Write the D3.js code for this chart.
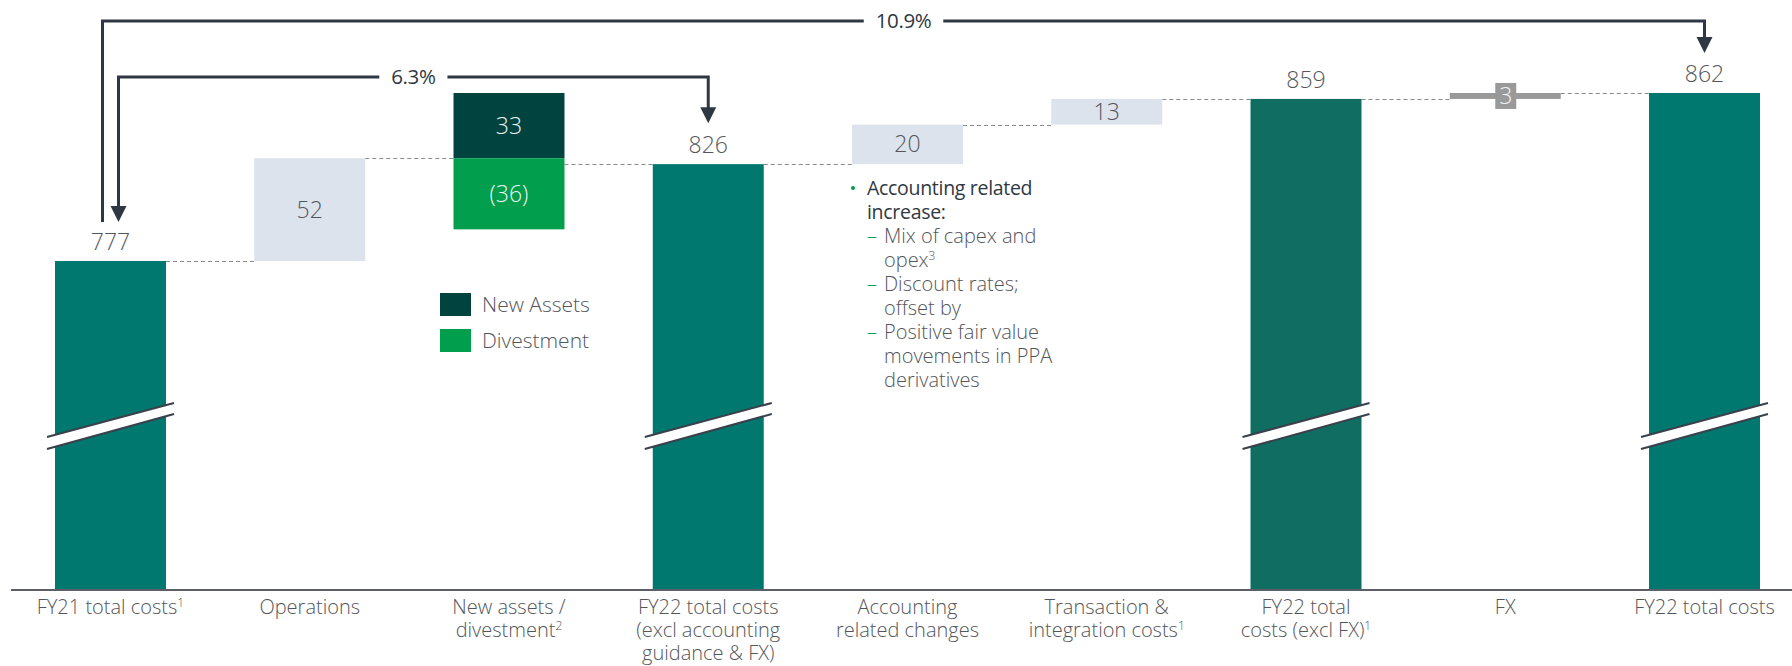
<!DOCTYPE html>
<html>
<head>
<meta charset="utf-8">
<script src="https://cdn.jsdelivr.net/npm/d3@7"></script>
<style>
  body { margin: 0; background: #fff; }
  svg { display: block; font-family: "Open Sans", "Noto Sans", sans-serif; }
</style>
</head>
<body>
<script>
// categories along the x axis (with superscript marks as ^n)
var categories = ["FY21", "Operations", "NewAssets", "FY22excl", "Accounting", "Transaction", "FY22exclFX", "FX", "FY22"];
var tickLabels = [
    ["FY21 total costs^1"],
    ["Operations"],
    ["New assets /", "divestment^2"],
    ["FY22 total costs", "(excl accounting", "guidance & FX)"],
    ["Accounting", "related changes"],
    ["Transaction &", "integration costs^1"],
    ["FY22 total", "costs (excl FX)^1"],
    ["FX"],
    ["FY22 total costs"]
];
var kinds = ["total", "delta", "split", "total", "delta", "delta", "total", "delta", "total"];
var values = [777, 52, null, 826, 20, 13, 859, 3, 862];
var newAssets = 33;
var divestment = -36;
var legendItems = ["New Assets", "Divestment"];
var noteTitle = ["Accounting related", "increase:"];
var noteItems = [["Mix of capex and", "opex^3"], ["Discount rates;", "offset by"], ["Positive fair value", "movements in PPA", "derivatives"]];
var arrowLabels = ["6.3%", "10.9%"];

var width = 1792, height = 666;
var baseY = 589;

var colours = {
    total: "#00776f",
    totalAlt: "#0f6d62",
    delta: "#dde3ed",
    fx: "#999999",
    newAssets: "#00433f",
    divest: "#009e4d",
    text: "#53565a",
    dark: "#2f3842",
    dash: "#8a8a8a"
};

var svg = d3.select("body").append("svg")
    .attr("width", width).attr("height", height);

var x = d3.scaleBand().domain(categories).range([55, 1760]).paddingInner(0.443).paddingOuter(0);
// broken axis: the bottom of the plot is not zero
var y = d3.scaleLinear().domain([611, 862]).range([baseY, 93]);

// build the waterfall steps
var steps = [];
var running = 0;
categories.forEach(function(c, i) {
    var k = kinds[i];
    if (k === "total") {
        steps.push({cat: c, kind: k, from: 0, to: values[i], end: values[i]});
        running = values[i];
    } else if (k === "delta") {
        steps.push({cat: c, kind: k, from: running, to: running + values[i], end: running + values[i], v: values[i]});
        running += values[i];
    } else {
        var start = running;
        running = start + newAssets + divestment;
        steps.push({cat: c, kind: k, from: start, end: running});
    }
});

// one text element, one tspan per line, "^n" becomes a superscript
function multiLine(sel, lines, lx, ly, lh) {
    lines.forEach(function(str, j) {
        var parts = str.split("^");
        sel.append("tspan").attr("x", lx).attr("y", ly + j * lh).text(parts[0]);
        if (parts[1]) {
            sel.append("tspan").attr("font-size", "0.6em").attr("dy", "-0.6em").text(parts[1]);
        }
    });
}

// connectors
var conn = svg.append("g").attr("class", "connectors");
for (var i = 0; i < steps.length - 1; i++) {
    var s = steps[i];
    var lvl = s.end;
    var x1 = x(s.cat) + x.bandwidth();
    var x2 = x(steps[i + 1].cat);
    conn.append("line")
        .attr("x1", x1).attr("x2", x2)
        .attr("y1", Math.round(y(lvl)) + 0.5).attr("y2", Math.round(y(lvl)) + 0.5)
        .attr("stroke", colours.dash).attr("stroke-width", 1.2)
        .attr("stroke-dasharray", "4,3");
}

// bars
var bars = svg.append("g").attr("class", "bars");
steps.forEach(function(s, i) {
    var bx = x(s.cat), bw = x.bandwidth(), cx = bx + bw / 2;
    if (s.kind === "total") {
        bars.append("rect")
            .attr("x", bx).attr("width", bw)
            .attr("y", y(s.to)).attr("height", baseY - y(s.to))
            .attr("fill", s.cat === "FY22exclFX" ? colours.totalAlt : colours.total);
        bars.append("text")
            .attr("x", cx).attr("y", y(s.to) - 11)
            .attr("text-anchor", "middle")
            .attr("font-size", 23).attr("font-weight", 300)
            .attr("fill", colours.text)
            .text(s.to);
    } else if (s.kind === "delta") {
        var top = y(s.to), bot = y(s.from);
        var isFx = s.cat === "FX";
        bars.append("rect")
            .attr("x", bx).attr("width", bw)
            .attr("y", top).attr("height", bot - top)
            .attr("fill", isFx ? colours.fx : colours.delta);
        if (isFx) {
            bars.append("rect")
                .attr("x", cx - 10).attr("width", 21)
                .attr("y", (top + bot) / 2 - 13).attr("height", 26)
                .attr("fill", colours.fx);
        }
        bars.append("text")
            .attr("x", cx + (isFx ? 0.5 : 0)).attr("y", (top + bot) / 2 + 8)
            .attr("text-anchor", "middle")
            .attr("font-size", 23).attr("font-weight", 300)
            .attr("fill", isFx ? "#f2f2f2" : colours.text)
            .text(s.v);
    } else {
        var yTop = y(s.from + newAssets), yMid = y(s.from), yBot = y(s.from + divestment);
        bars.append("rect")
            .attr("x", bx).attr("width", bw)
            .attr("y", yTop).attr("height", yMid - yTop)
            .attr("fill", colours.newAssets);
        bars.append("rect")
            .attr("x", bx).attr("width", bw)
            .attr("y", yMid).attr("height", yBot - yMid)
            .attr("fill", colours.divest);
        bars.append("text")
            .attr("x", cx).attr("y", (yTop + yMid) / 2 + 8)
            .attr("text-anchor", "middle")
            .attr("font-size", 23).attr("font-weight", 300)
            .attr("fill", "#eef2f1")
            .text(newAssets);
        bars.append("text")
            .attr("x", cx).attr("y", (yMid + yBot) / 2 + 8)
            .attr("text-anchor", "middle")
            .attr("font-size", 23).attr("font-weight", 300)
            .attr("fill", "#eef2f1")
            .text("(" + Math.abs(divestment) + ")");
    }
});

// axis break marks on the total bars
var brk = svg.append("g").attr("class", "breaks");
steps.forEach(function(s) {
    if (s.kind !== "total") return;
    var l = x(s.cat) - 8, r = x(s.cat) + x.bandwidth() + 8;
    brk.append("polygon")
        .attr("points", [[l, 437], [r, 403], [r, 414], [l, 449]].join(" "))
        .attr("fill", "#fff");
    brk.append("line").attr("x1", l).attr("y1", 437).attr("x2", r).attr("y2", 403)
        .attr("stroke", "#39414b").attr("stroke-width", 2);
    brk.append("line").attr("x1", l).attr("y1", 449).attr("x2", r).attr("y2", 414)
        .attr("stroke", "#39414b").attr("stroke-width", 2);
});

// x axis
svg.append("line")
    .attr("x1", 11).attr("x2", width)
    .attr("y1", baseY + 1).attr("y2", baseY + 1)
    .attr("stroke", "#5b6068").attr("stroke-width", 2);

var ticks = svg.append("g").attr("class", "ticks");
tickLabels.forEach(function(lines, i) {
    var cx = x(categories[i]) + x.bandwidth() / 2;
    var t = ticks.append("text")
        .attr("text-anchor", "middle")
        .attr("font-size", 20).attr("font-weight", 300)
        .attr("fill", colours.text);
    multiLine(t, lines, cx, 614, 23);
});

// legend
var legend = svg.append("g").attr("class", "legend");
[colours.newAssets, colours.divest].forEach(function(c, i) {
    legend.append("rect")
        .attr("x", 440).attr("y", 293 + i * 36)
        .attr("width", 31).attr("height", 23)
        .attr("fill", c);
    legend.append("text")
        .attr("x", 482).attr("y", 312 + i * 36)
        .attr("font-size", 21).attr("font-weight", 300)
        .attr("fill", colours.text)
        .text(legendItems[i]);
});

// note beside accounting changes
var note = svg.append("g").attr("class", "note");
note.append("circle").attr("cx", 853).attr("cy", 188).attr("r", 2).attr("fill", colours.divest);
var title = note.append("text")
    .attr("font-size", 19.5).attr("font-weight", 500)
    .attr("letter-spacing", -0.3)
    .attr("fill", colours.dark);
multiLine(title, noteTitle, 867, 195, 24);
var ny = 195 + noteTitle.length * 24;
var itemLines = [];
noteItems.forEach(function(item, k) {
    note.append("text")
        .attr("x", 867).attr("y", ny + itemLines.length * 24)
        .attr("font-size", 20).attr("font-weight", 300)
        .attr("fill", colours.divest)
        .text("–");
    itemLines = itemLines.concat(item);
});
var body = note.append("text")
    .attr("font-size", 20).attr("font-weight", 300)
    .attr("fill", colours.text);
multiLine(body, itemLines, 884, ny, 24);

// growth arrows
var arrows = svg.append("g").attr("class", "arrows");
function arrowHead(ax, tipY) {
    arrows.append("polygon")
        .attr("points", [[ax, tipY], [ax - 8, tipY - 16], [ax + 8, tipY - 16]].join(" "))
        .attr("fill", colours.dark);
}
function bracket(xl, xr, lineY, yl, yr, headLeft, label) {
    arrows.append("path")
        .attr("d", "M" + xl + "," + (headLeft ? yl - 14 : yl) + "V" + lineY + "H" + xr + "V" + (yr - 14))
        .attr("fill", "none").attr("stroke", colours.dark).attr("stroke-width", 3);
    if (headLeft) arrowHead(xl, yl);
    arrowHead(xr, yr);
    var mx = (xl + xr) / 2;
    var t = arrows.append("text")
        .attr("x", mx).attr("y", lineY + 7)
        .attr("text-anchor", "middle")
        .attr("font-size", 20.5).attr("font-weight", 500)
        .attr("letter-spacing", -0.4)
        .attr("fill", colours.dark)
        .text(label);
    var w = t.node().getComputedTextLength();
    arrows.insert("rect", function() { return t.node(); })
        .attr("x", mx - w / 2 - 12).attr("y", lineY - 6)
        .attr("width", w + 24).attr("height", 12)
        .attr("fill", "#fff");
}
var c0 = x(categories[0]) + x.bandwidth() / 2;
var c3 = x(categories[3]) + x.bandwidth() / 2;
var c8 = x(categories[8]) + x.bandwidth() / 2;
bracket(c0 + 8, c3, 77, y(values[0]) - 39, y(values[3]) - 41, true, arrowLabels[0]);
bracket(c0 - 8, c8, 21, y(values[0]) - 39, y(values[8]) - 40, false, arrowLabels[1]);
</script>
</body>
</html>
